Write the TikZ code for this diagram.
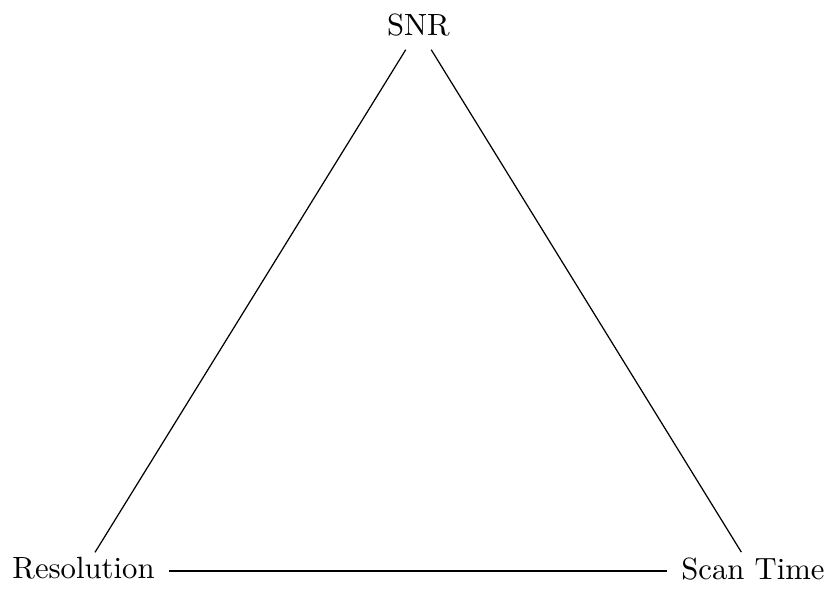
\documentclass[tikz,border=0pt]{standalone}
\begin{document}
\begin{tikzpicture}[x=1cm,y=1cm]
\useasboundingbox (0,0) rectangle (9.548,6.754);
\tikzset{
  lbl/.style={inner xsep=4.6pt, inner ysep=1.5pt, text depth=1.8pt},
  toplbl/.style={inner xsep=4.6pt, inner ysep=1.5pt, text depth=3pt}
}
\node[toplbl] (snr) at (4.791,6.421) {SNR};
\node[lbl] (res) at (0.956,0.2175) {Resolution};
\node[lbl] (scan) at (8.620,0.2175) {Scan Time};
\draw (snr) -- (res);
\draw (snr) -- (scan);
\draw (res) -- (scan);
\end{tikzpicture}
\end{document}
